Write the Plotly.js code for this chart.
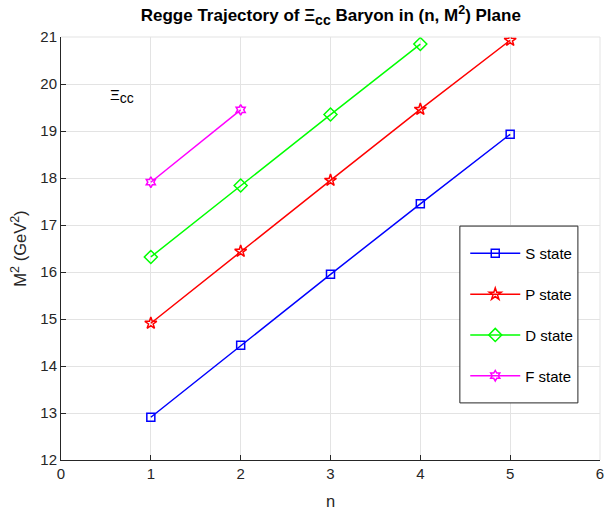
<!DOCTYPE html>
<html>
<head>
<meta charset="utf-8">
<script src="https://cdn.plot.ly/plotly-3.0.1.min.js"></script>
<style>html,body{margin:0;padding:0;background:#fff;}#chart{width:607px;height:510px;}</style>
</head>
<body>
<div id="chart"></div>
<script>
var nS = [1, 2, 3, 4, 5];
var mS = [12.91, 14.44, 15.95, 17.45, 18.93];
var nP = [1, 2, 3, 4, 5];
var mP = [14.91, 16.44, 17.95, 19.46, 20.93];
var nD = [1, 2, 3, 4];
var mD = [16.32, 17.84, 19.35, 20.85];
var nF = [1, 2];
var mF = [17.91, 19.45];
var names = ['S state', 'P state', 'D state', 'F state'];
var colors = ['#0000ff', '#ff0000', '#00ff00', '#ff00ff'];
var symbols = ['square-open', 'star-open', 'diamond-open', 'hexagram-open'];
var sizes = [8, 9, 10, 8];
var xs = [nS, nP, nD, nF];
var ys = [mS, mP, mD, mF];

var traces = [];
for (var i = 0; i < 4; i++) {
  traces.push({
    x: xs[i], y: ys[i], name: names[i], type: 'scatter', mode: 'lines+markers',
    legendgroup: 'g' + i,
    line: {color: colors[i], width: 1.5},
    marker: {symbol: symbols[i], size: sizes[i], color: colors[i], line: {color: colors[i], width: 1.5}}
  });
}

var ff = 'Arial, Liberation Sans, sans-serif';
var axfont = {family: ff, size: 15, color: '#262626'};
var titfont = {family: ff, size: 16.5, color: '#262626'};
var sup2 = '<sup><span style="font-size:12.5px">2</span></sup>';
var layout = {
  width: 607, height: 510,
  margin: {l: 61, r: 7, t: 37, b: 50},
  paper_bgcolor: '#fff', plot_bgcolor: '#fff',
  title: {text: '<b>Regge Trajectory of Ξ<sub><span style="font-size:14px">cc</span></sub> Baryon in (n, M' + sup2 + ') Plane</b>',
          font: {family: ff, size: 17, color: '#000'},
          x: 0.545, xanchor: 'center', y: 0.982, yanchor: 'top'},
  xaxis: {range: [0, 6], dtick: 1, tick0: 0, showgrid: true, gridcolor: '#e3e3e3', gridwidth: 1,
          zeroline: false, showline: true, linecolor: '#262626', linewidth: 1,
          ticks: 'inside', ticklen: 5, tickcolor: '#262626', tickfont: axfont,
          title: {text: 'n', font: titfont, standoff: 14}},
  yaxis: {range: [12, 21], dtick: 1, tick0: 12, showgrid: true, gridcolor: '#e3e3e3', gridwidth: 1,
          zeroline: false, showline: true, linecolor: '#262626', linewidth: 1,
          ticks: 'inside', ticklen: 5, tickcolor: '#262626', tickfont: axfont,
          title: {text: 'M' + sup2 + ' (GeV' + sup2 + ')', font: titfont, standoff: 9}},
  showlegend: true,
  legend: {x: 0.75, y: 0.527, xanchor: 'left', yanchor: 'top',
           bgcolor: 'rgba(0,0,0,0)', borderwidth: 0,
           font: {family: ff, size: 15, color: '#000'},
           tracegroupgap: 18.3, itemwidth: 50},
  shapes: [
    {type: 'line', xref: 'paper', yref: 'paper', x0: 0, x1: 1, y0: 1, y1: 1, line: {color: '#e3e3e3', width: 1}},
    {type: 'line', xref: 'paper', yref: 'paper', x0: 1, x1: 1, y0: 0, y1: 1, line: {color: '#e3e3e3', width: 1}},
    {type: 'rect', xref: 'paper', yref: 'paper', x0: 0.740, x1: 0.959, y0: 0.135, y1: 0.553,
     fillcolor: '#fff', line: {color: '#262626', width: 1}, layer: 'above'}
  ],
  annotations: [
    {x: 0.68, y: 19.74, xref: 'x', yref: 'y',
     text: 'Ξ<sub><span style="font-size:14px">cc</span></sub>', showarrow: false,
     font: {family: ff, size: 15, color: '#000'}}
  ]
};
Plotly.newPlot('chart', traces, layout, {displayModeBar: false, staticPlot: true});
</script>
</body>
</html>
